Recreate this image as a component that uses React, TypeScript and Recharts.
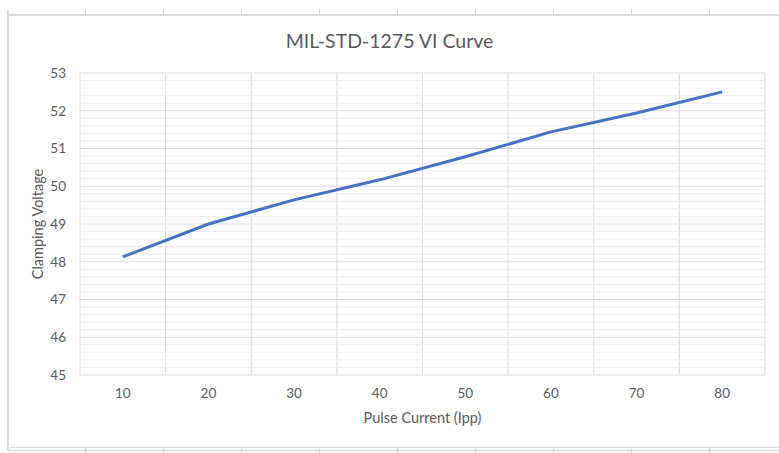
import { LineChart, Line, XAxis, YAxis, CartesianGrid, ReferenceLine } from 'recharts';

const pulseCurrent = [10, 20, 30, 40, 50, 60, 70, 80];
const clampingVoltage = [48.13, 49.0, 49.64, 50.17, 50.78, 51.44, 51.94, 52.5];

const xTicks = [10, 20, 30, 40, 50, 60, 70, 80];
const xGridTicks = [5, 15, 25, 35, 45, 55, 65, 75, 85];
const yTicks = [45, 46, 47, 48, 49, 50, 51, 52, 53];
const yMinorTicks = [
  45.2, 45.4, 45.6, 45.8, 46.2, 46.4, 46.6, 46.8, 47.2, 47.4, 47.6, 47.8,
  48.2, 48.4, 48.6, 48.8, 49.2, 49.4, 49.6, 49.8, 50.2, 50.4, 50.6, 50.8,
  51.2, 51.4, 51.6, 51.8, 52.2, 52.4, 52.6, 52.8,
];
const cellEdges = [85, 163, 241, 319, 397, 475, 553, 631, 709];

const data = pulseCurrent.map((x, i) => ({ x, v: clampingVoltage[i] }));

const font = 'Lato, "Open Sans", sans-serif';
const textColor = '#595959';
const cellLine = '#d9d9d9';

export default function App() {
  return (
    <div style={{ position: 'relative', width: 779, height: 453, background: '#fff', fontFamily: font }}>
      <style>{'body { margin: 0; }'}</style>
      {/* spreadsheet cell borders around the chart */}
      <div style={{ position: 'absolute', left: 7, top: 14, right: 0, height: 0, borderTop: `2px solid ${cellLine}` }} />
      <div style={{ position: 'absolute', left: 7, top: 10, width: 0, height: 440, borderLeft: `2px solid ${cellLine}` }} />
      <div style={{ position: 'absolute', left: 7, top: 447, right: 0, height: 0, borderTop: `1px solid ${cellLine}` }} />
      <div style={{ position: 'absolute', left: 7, top: 450, right: 0, height: 0, borderTop: `1px solid ${cellLine}` }} />
      {cellEdges.map((cx) => (
        <div key={`t${cx}`} style={{ position: 'absolute', left: cx, top: 9, width: 1, height: 6, background: '#cfcfcf' }} />
      ))}
      {cellEdges.map((cx) => (
        <div key={`b${cx}`} style={{ position: 'absolute', left: cx, top: 449, width: 1, height: 4, background: '#cfcfcf' }} />
      ))}

      <div
        style={{
          position: 'absolute',
          left: 0,
          width: 779,
          top: 29,
          textAlign: 'center',
          fontSize: 19.5,
          color: textColor,
        }}
      >
        MIL-STD-1275 VI Curve
      </div>

      <div style={{ position: 'absolute', left: 0, top: 0 }}>
        <LineChart width={779} height={453} data={data} margin={{ top: 73, right: 14, bottom: 28, left: 0 }}>
          <XAxis xAxisId="grid" orientation="top" type="number" dataKey="x" domain={[5, 85]} ticks={xGridTicks} hide />
          {yMinorTicks.map((t) => (
            <ReferenceLine key={t} xAxisId="main" yAxisId="main" y={t} stroke="#ececec" strokeWidth={1} />
          ))}
          <CartesianGrid xAxisId="grid" yAxisId="main" horizontal={false} stroke={cellLine} />
          <CartesianGrid xAxisId="main" yAxisId="main" vertical={false} stroke={cellLine} />
          <XAxis
            xAxisId="main"
            type="number"
            dataKey="x"
            domain={[5, 85]}
            ticks={xTicks}
            axisLine={false}
            tickLine={false}
            tickMargin={7}
            height={50}
            tick={{ fontSize: 13.5, fill: textColor, fontFamily: font }}
            label={{ value: 'Pulse Current (Ipp)', position: 'insideBottom', offset: 2, fontSize: 14.5, fill: textColor, fontFamily: font }}
          />
          <YAxis
            yAxisId="main"
            type="number"
            domain={[45, 53]}
            ticks={yTicks}
            axisLine={false}
            tickLine={false}
            tickMargin={8}
            width={80}
            tick={{ fontSize: 13.5, fill: textColor, fontFamily: font }}
            label={{
              value: 'Clamping Voltage',
              angle: -90,
              position: 'insideLeft',
              offset: 38,
              fontSize: 14.5,
              fill: textColor,
              fontFamily: font,
              style: { textAnchor: 'middle' },
            }}
          />
          <Line
            xAxisId="main"
            yAxisId="main"
            type="linear"
            dataKey="v"
            stroke="#4472C4"
            strokeWidth={3}
            dot={false}
            activeDot={false}
            isAnimationActive={false}
          />
        </LineChart>
      </div>
    </div>
  );
}
